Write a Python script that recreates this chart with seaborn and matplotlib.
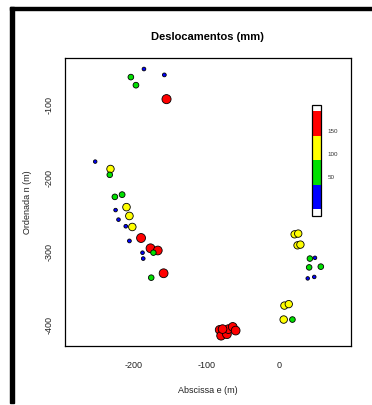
import numpy as np
import pandas as pd
import matplotlib
matplotlib.use("Agg")
import matplotlib.pyplot as plt
from matplotlib.colors import ListedColormap, BoundaryNorm
from matplotlib.patches import Rectangle
import matplotlib as mpl
import seaborn as sns

# Survey point coordinates (m) and total displacement (mm)
este = [-186, -158, -204, -197, -155,
        -253, -232, -233, -216, -226, -225, -210, -206, -221, -211, -202,
        -206, -190, -177, -167, -173, -188, -187, -159, -176,
        -82, -80, -72, -70, -64, -60, -78,
        21, 26, 25, 29, 42, 49, 41, 57, 39, 48, 7, 13, 6, 18]
norte = [-51, -59, -62, -73, -92,
         -177, -187, -195, -222, -225, -243, -239, -251, -256, -265, -266,
         -285, -281, -295, -298, -301, -301, -309, -329, -335,
         -406, -414, -412, -405, -402, -407, -405,
         -276, -275, -291, -290, -309, -308, -321, -320, -336, -334, -373, -371, -392, -392]
desl = [18, 20, 60, 62, 175,
        15, 112, 58, 64, 60, 16, 118, 120, 17, 18, 116,
        20, 168, 165, 162, 55, 17, 18, 165, 58,
        158, 160, 160, 158, 160, 162, 158,
        110, 112, 110, 112, 58, 16, 58, 60, 15, 16, 112, 110, 115, 60]

# Class limits and colours of the legend bar
limites = [-35, -20, 33, 86, 139, 193, 206]
cores = ["white", "#0000ff", "#00e000", "#ffff00", "#ff0000", "white"]
rotulos_barra = [50, 100, 150]

df = pd.DataFrame({"e": este, "n": norte, "d": desl})
df["classe"] = pd.cut(df["d"], bins=limites[1:-1], labels=["1", "2", "3", "4"]).astype(str)
paleta = {"1": "#0000ff", "2": "#00e000", "3": "#ffff00", "4": "#ff0000"}

sns.set_style("white")
plt.rcParams["font.family"] = ["Liberation Sans", "DejaVu Sans"]
plt.rcParams["axes.unicode_minus"] = False

fig = plt.figure(figsize=(3.72, 4.05), dpi=100)
ax = fig.add_axes([65 / 372, 1 - 346 / 405, 286 / 372, 288 / 405])

sns.scatterplot(data=df, x="e", y="n", hue="classe", palette=paleta,
                size="d", sizes=(3, 44), size_norm=(0, 180),
                edgecolor="black", linewidth=0.6, legend=False, ax=ax, zorder=3)

ax.set_xlim(-294.5, 98.5)
ax.set_ylim(-428, -36)
ax.set_xticks([-200, -100, 0])
ax.set_yticks([-400, -300, -200, -100])
ax.tick_params(axis="both", direction="out", length=5, width=0.8, colors="black",
               labelsize=6.5, labelcolor="#222222")
ax.tick_params(axis="x", pad=6)
ax.tick_params(axis="y", pad=3)
for lab in ax.get_yticklabels():
    lab.set_rotation(90)
    lab.set_va("center")
for s in ax.spines.values():
    s.set_color("black")
    s.set_linewidth(0.9)
ax.set_xlabel("Abscissa e (m)", fontsize=6.5, color="#222222", labelpad=11)
ax.set_ylabel("Ordenada n (m)", fontsize=6.5, color="#222222", labelpad=9)

fig.text(207 / 372, 1 - 37 / 405, "Deslocamentos (mm)", ha="center", va="center",
         fontsize=8, fontweight="bold", color="black")

# Displacement class bar
cax = fig.add_axes([312 / 372, 1 - 216 / 405, 9 / 372, 111 / 405])
cmap = ListedColormap(cores)
norm = BoundaryNorm(limites, cmap.N)
cb = mpl.colorbar.ColorbarBase(cax, cmap=cmap, norm=norm, boundaries=limites,
                               orientation="vertical", spacing="proportional")
cb.set_ticks(rotulos_barra)
cb.set_ticklabels([str(v) for v in rotulos_barra])
cax.minorticks_off()
cb.outline.set_edgecolor("black")
cb.outline.set_linewidth(0.9)
cax.tick_params(which="both", length=0, labelsize=4.5, pad=5, labelcolor="#333333")

# Outer frame strokes
fig.patches.append(Rectangle((10 / 372, 2 / 405), 3.5 / 372, 396 / 405,
                             transform=fig.transFigure, color="black", zorder=10))
fig.patches.append(Rectangle((10 / 372, 1 - 10 / 405), 362 / 372, 3.2 / 405,
                             transform=fig.transFigure, color="black", zorder=10))

fig.savefig("out.png", dpi=100)
